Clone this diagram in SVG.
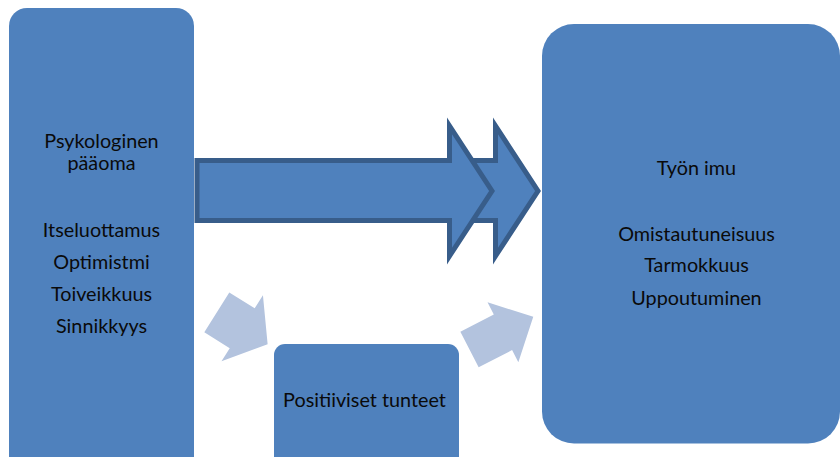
<svg xmlns="http://www.w3.org/2000/svg" width="840" height="457" viewBox="0 0 840 457">
<style>
.box{fill:#4f81bd}
.big{fill:#4f81bd;stroke:#385d8a;stroke-width:5;stroke-linejoin:miter;stroke-miterlimit:10}
.light{fill:#b3c3de}
text{font-family:Lato,"Liberation Sans",sans-serif;font-size:19.8px;fill:#0a0a0a;text-anchor:middle}
</style>
<rect width="840" height="457" fill="#fff"/>
<g id="connectors">
<polygon class="big" points="300,160.5 495.5,160.5 495.5,126 538,191 495.5,256 495.5,220.5 300,220.5"/>
<polygon class="big" points="197,160.5 449.5,160.5 449.5,126 492,191 449.5,256 449.5,220.5 197,220.5"/>
<polygon class="light" transform="translate(216.8,312.3) rotate(32.1)" points="0,-23.5 30,-23.5 30,-39 60,0 30,39 30,23.5 0,23.5"/>
<polygon class="light" transform="translate(469.5,349.5) rotate(-27.2)" points="0,-20 37.6,-20 37.6,-33.7 71.7,0 37.6,33.7 37.6,20 0,20"/>
</g>
<g id="psykologinen">
<rect class="box" x="9" y="8" width="185" height="470" rx="18"/>
<text x="101.5" y="148">Psykologinen</text>
<text x="101.5" y="170">pääoma</text>
<text x="101.5" y="236.5">Itseluottamus</text>
<text x="101.5" y="269">Optimistmi</text>
<text x="101.5" y="301">Toiveikkuus</text>
<text x="101.5" y="333">Sinnikkyys</text>
</g>
<g id="tyon-imu">
<rect class="box" x="542" y="24" width="298" height="419.5" rx="32"/>
<text x="696.5" y="175">Työn imu</text>
<text x="696.5" y="240.5">Omistautuneisuus</text>
<text x="696.5" y="272">Tarmokkuus</text>
<text x="696.5" y="304.5">Uppoutuminen</text>
</g>
<g id="positiiviset">
<rect class="box" x="274" y="344" width="185" height="140" rx="11"/>
<text x="364.5" y="406.5">Positiiviset tunteet</text>
</g>
</svg>
